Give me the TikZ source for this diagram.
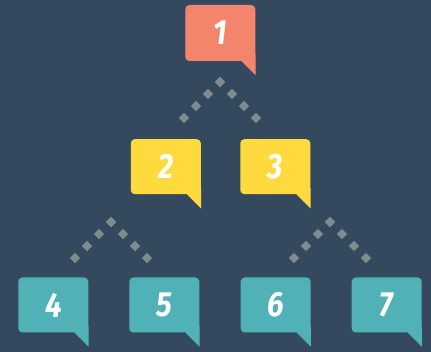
\documentclass[tikz,border=0pt]{standalone}
\usepackage{fontspec}
\setmainfont{Fira Sans}
\newfontfamily\digitfont[FakeStretch=0.85]{Fira Sans}
\usetikzlibrary{calc}
\definecolor{bgc}{HTML}{34495E}
\definecolor{salmon}{HTML}{F5846C}
\definecolor{sun}{HTML}{FFDA3F}
\definecolor{teal}{HTML}{50B2B7}
\definecolor{dotc}{HTML}{7F8C8D}
\newcommand\bubbletail[2]{%
  \fill[#2] ($(#1.south east)+(-14,-6)$) -- ($(#1.south east)+(-14,0)$) --
    ($(#1.south east)+(0,14)$) -- ($(#1.south east)+(0,-6)$) -- cycle;}
\newcommand\dotrow[2]{%
  \foreach \t in {0,1,2,3} \node[dotmark] at ($(#1)!\t/3!(#2)$) {};}
\begin{document}
\begin{tikzpicture}[x=1pt,y=-1pt,
  bubble/.style={rectangle, rounded corners=4pt, minimum width=70pt, minimum height=55pt,
    inner sep=0pt, text=white, font=\digitfont\fontsize{35}{35}\selectfont\bfseries\itshape},
  dotmark/.style={rectangle, fill=dotc, rotate=45, minimum size=7.2pt, inner sep=0pt}]
\fill[bgc] (0,0) rectangle (431,352);
\useasboundingbox (0,0) rectangle (431,352);
% nodes
\node[bubble, fill=salmon, minimum height=56pt] (b1) at (220.3,33) {1};
\node[bubble, fill=sun] (b2) at (165.8,166.7) {2};
\node[bubble, fill=sun] (b3) at (275.3,166.7) {3};
\node[bubble, fill=teal] (b4) at (53.3,305) {4};
\node[bubble, fill=teal] (b5) at (164.3,305) {5};
\node[bubble, fill=teal] (b6) at (275.7,305) {6};
\node[bubble, fill=teal] (b7) at (386.7,305) {7};
\bubbletail{b1}{salmon}
\bubbletail{b2}{sun}
\bubbletail{b3}{sun}
\bubbletail{b4}{teal}
\bubbletail{b5}{teal}
\bubbletail{b6}{teal}
\bubbletail{b7}{teal}
% dotted connectors
\coordinate (p1) at (220,82);
\coordinate (l1) at (184,118);
\coordinate (r1) at (256,118);
\coordinate (p2) at (111,222);
\coordinate (l2) at (75,258);
\coordinate (r2) at (147,258);
\coordinate (p3) at (330,222);
\coordinate (l3) at (294,258);
\coordinate (r3) at (366,258);
\dotrow{p1}{l1}
\dotrow{p1}{r1}
\dotrow{p2}{l2}
\dotrow{p2}{r2}
\dotrow{p3}{l3}
\dotrow{p3}{r3}
\end{tikzpicture}
\end{document}
